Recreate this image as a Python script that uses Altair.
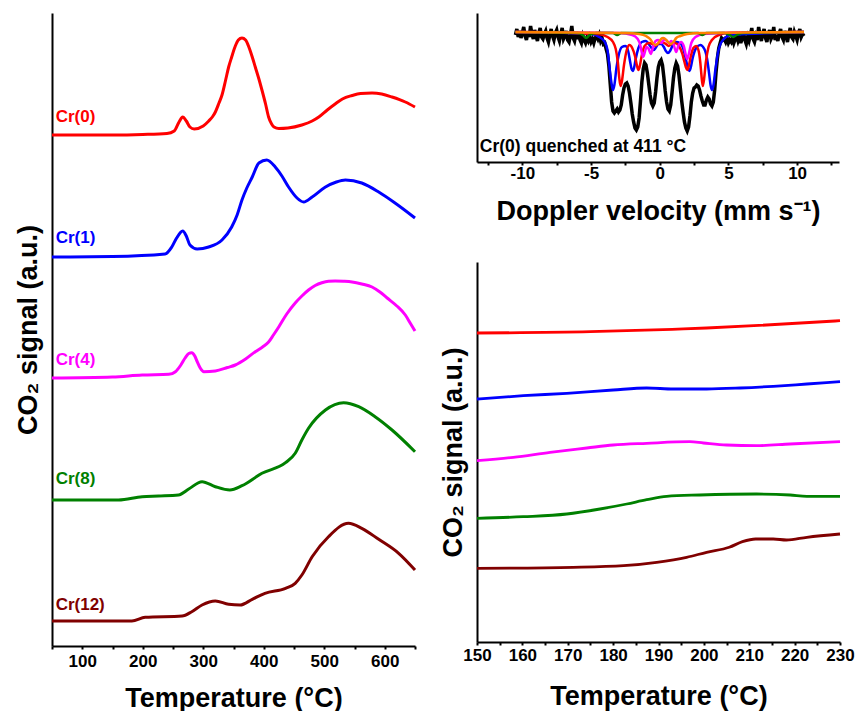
import altair as alt
import numpy as np
import pandas as pd

FONT = "Liberation Sans"

# ---------------- TPD profiles, 50-650 °C (signal in a.u., offset stacked) ----------------
samples = ["Cr(0)", "Cr(1)", "Cr(4)", "Cr(8)", "Cr(12)"]
sample_colors = ["#FF0000", "#0000FF", "#FF00FF", "#008000", "#800000"]

cr0_T = [50, 150, 200, 240, 252, 260, 266, 272, 278, 285, 300, 309, 315, 320, 326, 331, 337, 342, 347, 353,
         358, 364, 370, 376, 381, 386, 392, 397, 403, 408, 413, 417, 425, 440, 463, 480, 491, 505, 518, 530,
         546, 560, 579, 595, 612, 634, 650]
cr0_s = [511, 511, 511.5, 512.5, 515, 524, 529, 525, 519, 517, 520, 525, 529, 534, 543, 551, 566, 579, 589, 600,
         606, 608, 606, 598, 589, 579, 567, 556, 542, 529, 522, 519, 517.5, 518, 521, 525, 529, 536, 542, 547,
         550.5, 552.5, 553, 552, 549, 544, 539]

cr1_T = [50, 150, 237, 248, 256, 266, 272, 278, 290, 309, 331, 347, 356, 364, 372, 381, 392, 405, 419, 430,
         441, 455, 466, 480, 502, 520, 535, 562, 590, 617, 650]
cr1_s = [389, 389.5, 392, 399, 408, 415, 410, 401, 397, 399, 406, 419, 431, 446, 458, 469, 483, 486, 479, 470,
         459, 448, 444, 449, 459, 464, 466, 463, 454, 443, 428]

cr4_T = [50, 150, 199, 243, 254, 263, 270, 276, 281, 286, 290, 295, 301, 320, 340, 353, 370, 386, 398, 408,
         416, 425, 438, 452, 463, 474, 485, 496, 507, 518, 532, 546, 562, 579, 592, 604, 620, 634, 643, 650]
cr4_s = [268, 269, 271, 271.7, 274.3, 281, 288, 292.5, 293.3, 290, 284.3, 278, 274.3, 275, 278.5, 281, 287,
         294.3, 299, 304, 311, 319.3, 332, 343, 350, 356, 360.5, 363.3, 364.8, 365, 364.7, 364, 362, 359, 354,
         348, 340, 331, 322, 315]

cr8_T = [50, 160, 199, 226, 259, 276, 298, 320, 344, 364, 397, 436, 452, 463, 474, 502, 532, 557, 584, 612, 650]
cr8_s = [146, 146, 149.3, 150, 151, 157, 164.3, 159.3, 156, 160.3, 172.7, 183.3, 192.7, 206, 217.7, 236, 243.3,
         239.3, 229.3, 216, 194.3]

cr12_T = [50, 182, 204, 265, 281, 298, 320, 342, 361, 381, 402, 436, 452, 463, 480, 507, 540, 562, 590, 623, 650]
cr12_s = [25, 25, 28.7, 30, 34.3, 41, 45, 41.7, 41, 46.7, 52.7, 57.7, 62.7, 71, 89.3, 109.3, 122.7, 117.7,
          106.7, 92.7, 76]

label_T = [56, 56, 56, 56, 56]
label_s = [529, 408, 286, 167, 41]

# ---------------- low-temperature window, 150-230 °C ----------------
low_T = {
    "Cr(0)": [150, 175, 193, 200.6, 211, 230],
    "Cr(1)": [150, 160.2, 169.8, 180, 187.4, 193.3, 200.6, 208, 215.3, 222.7, 230],
    "Cr(4)": [150, 158, 166.1, 174.2, 180, 187.4, 196.9, 199.9, 205, 211.6, 219, 230],
    "Cr(8)": [150, 160.2, 169.8, 177.1, 183, 187.4, 191.8, 199.1, 211.6, 219, 222.7, 230],
    "Cr(12)": [150, 171.2, 182.3, 189.6, 196.2, 200.6, 205.6, 208.5, 211.4, 215.3, 218.2, 222.7, 230],
}
low_s = {
    "Cr(0)": [309, 310.3, 312.7, 314, 316.3, 321.3],
    "Cr(1)": [243, 246.3, 248.7, 252, 254, 253, 253, 254, 255.7, 258, 260.3],
    "Cr(4)": [181.3, 184.7, 189.7, 194, 197, 198.7, 200.3, 199, 197, 196.3, 198, 200.3],
    "Cr(8)": [123.7, 125.3, 128, 133, 138, 142.3, 145.7, 147, 148, 147, 145.7, 145.7],
    "Cr(12)": [73.7, 74.7, 76.3, 79.7, 84.7, 89.7, 94.7, 100.3, 103, 103, 102, 104.7, 108],
}

# ---------------- Mössbauer spectrum, relative transmission (%) ----------------
wing_left_v = np.round(np.arange(-105, -46) / 10, 1)
wing_left_t = [99.7, 100.3, 99.5, 100.1, 99.4, 99.9, 100.5, 99.6, 99.2, 100.0,
               99.5, 100.6, 99.8, 99.3, 100.2, 99.6, 99.1, 99.9, 100.4, 99.5,
               99.3, 99.8, 100.1, 99.4, 99.0, 99.7, 100.3, 99.6, 99.2, 99.9,
               100.2, 99.5, 99.1, 99.8, 100.4, 99.3, 99.6, 100.1, 99.2, 99.0,
               99.7, 100.6, 99.4, 99.1, 99.8, 99.3, 100.0, 99.2, 98.9, 99.6,
               99.2, 98.9, 99.4, 99.1, 99.5, 99.0, 99.3, 98.9, 99.4]
center_v = np.round(np.arange(-46, 47) / 10, 1)
center_t = [99.6, 99.3, 99.7, 99.1, 99.4, 98.8, 98.9,
            98.3, 97.8, 96.6, 94.8, 93.0, 92.1, 91.9, 92.1, 92.3, 92.0,
            92.2, 92.7, 93.7, 94.4, 94.8, 94.9, 94.6, 93.9, 92.9, 91.8,
            91.0, 90.4, 90.2, 90.5, 91.4, 93.1, 95.0, 96.3, 96.9, 96.7,
            95.9, 94.8, 93.7, 92.9, 92.6, 92.9, 94.0, 95.4, 96.5, 97.0,
            97.2, 96.7, 95.5, 94.1, 93.0, 92.3, 92.1, 92.7, 94.0, 95.4,
            96.4, 96.9, 96.6, 95.7, 94.4, 93.1, 92.0, 91.0, 90.4, 90.1,
            90.5, 91.6, 93.0, 93.9, 94.4, 94.5, 94.7, 94.6, 94.2, 93.6,
            93.1, 92.7, 92.7, 93.2, 93.5, 93.3, 92.8, 92.6, 93.0, 94.2,
            96.0, 97.4, 98.4, 98.9, 99.4, 99.2]
wing_right_v = np.round(np.arange(47, 106) / 10, 1)
wing_right_t = [99.3, 99.0, 99.4, 98.9, 99.2, 99.0, 99.5, 98.9, 99.3, 99.6,
                99.1, 99.5, 98.9, 99.4, 100.0, 99.2, 98.8, 99.5, 99.1, 99.7,
                100.4, 99.3, 99.0, 99.6, 99.2, 100.5, 99.7, 99.1, 99.9, 100.3,
                99.4, 99.0, 99.8, 100.2, 99.3, 99.6, 100.5, 99.2, 99.7, 99.1,
                99.9, 100.3, 99.5, 99.2, 100.1, 99.6, 99.0, 99.8, 100.4, 99.5,
                99.3, 100.0, 99.6, 99.2, 99.9, 100.3, 99.5, 99.8, 99.6]

# fitted sub-spectra: (velocity mm/s, transmission %)
fit_blue = [(-10.5, 100.0), (-5.0, 99.8), (-4.4, 99.5), (-4.0, 99.0), (-3.8, 98.2), (-3.65, 96.4), (-3.5, 94.8),
            (-3.4, 94.2), (-3.3, 94.7), (-3.15, 96.4), (-3.0, 97.6), (-2.75, 98.5), (-2.5, 98.6), (-2.3, 98.1),
            (-2.15, 97.0), (-2.05, 96.3), (-1.96, 96.1), (-1.87, 96.4), (-1.75, 97.3), (-1.55, 98.4),
            (-1.3, 99.0), (-1.0, 99.1), (-0.8, 98.8), (-0.6, 98.4), (-0.45, 98.2), (-0.3, 98.4), (-0.1, 98.8),
            (0.1, 98.8), (0.3, 98.5), (0.45, 98.1), (0.6, 97.9), (0.75, 98.1), (0.95, 98.7), (1.2, 99.0),
            (1.45, 98.9), (1.7, 98.4), (1.9, 97.3), (2.05, 96.4), (2.15, 96.1), (2.25, 96.4), (2.4, 97.4),
            (2.65, 98.4), (2.95, 98.7), (3.25, 98.3), (3.45, 97.3), (3.6, 95.8), (3.7, 94.7), (3.8, 94.2),
            (3.9, 94.6), (4.05, 96.2), (4.25, 98.0), (4.6, 99.2), (5.2, 99.7), (10.5, 100.0)]
fit_red = [(-10.5, 100.0), (-4.5, 99.8), (-3.8, 99.5), (-3.4, 99.0), (-3.2, 98.3), (-3.05, 97.0), (-2.95, 95.5),
           (-2.85, 94.6), (-2.75, 95.1), (-2.6, 96.7), (-2.4, 98.2), (-2.2, 98.7), (-2.0, 98.4), (-1.8, 97.6),
           (-1.65, 96.6), (-1.55, 96.2), (-1.45, 96.6), (-1.3, 97.7), (-1.1, 98.6), (-0.8, 98.9),
           (-0.55, 98.8), (-0.35, 98.6), (-0.15, 98.8), (0.15, 99.0), (0.45, 98.8), (0.65, 98.6), (0.85, 98.8),
           (1.1, 98.9), (1.4, 98.6), (1.65, 97.8), (1.8, 97.0), (1.9, 96.5), (2.0, 96.2), (2.1, 96.5),
           (2.25, 97.5), (2.45, 98.4), (2.65, 98.6), (2.85, 98.0), (2.95, 97.0), (3.03, 95.8), (3.13, 94.6),
           (3.23, 95.3), (3.35, 96.9), (3.55, 98.5), (3.8, 99.2), (4.3, 99.7), (5.0, 99.9), (10.5, 100.0)]
fit_magenta = [(-10.5, 100.0), (-3.0, 99.9), (-2.0, 99.7), (-1.6, 99.3), (-1.4, 98.6), (-1.3, 97.9), (-1.2, 97.5),
               (-1.1, 97.9), (-0.95, 98.5), (-0.8, 98.3), (-0.65, 97.8), (-0.5, 98.4), (-0.3, 99.1), (-0.1, 99.2),
               (0.1, 98.9), (0.3, 99.2), (0.45, 99.2), (0.65, 98.9), (0.85, 99.1), (1.0, 98.8), (1.2, 98.0),
               (1.35, 98.6), (1.55, 99.0), (1.75, 98.6), (1.9, 97.7), (2.0, 97.3), (2.1, 97.7), (2.3, 98.9),
               (2.6, 99.5), (3.2, 99.8), (4.5, 99.9), (10.5, 100.0)]
fit_green = [(-10.5, 100.0), (-6.0, 99.9), (-5.6, 99.7), (-5.35, 99.4), (-5.1, 99.7), (-4.6, 99.9), (-3.4, 99.9),
             (-3.1, 99.7), (-2.8, 99.9), (-0.85, 99.9), (0.85, 99.9), (2.8, 99.9), (3.1, 99.7), (3.4, 99.9),
             (4.7, 99.9), (5.1, 99.7), (5.35, 99.5), (5.6, 99.7), (6.0, 99.9), (10.5, 100.0)]
fit_orange = [(-10.5, 100.0), (-2.5, 99.9), (-1.5, 99.8), (-1.0, 99.6), (-0.7, 99.3), (-0.5, 98.9), (-0.3, 98.7),
              (-0.1, 98.9), (0.1, 99.3), (0.25, 99.4), (0.4, 99.3), (0.6, 99.0), (0.8, 98.8), (1.0, 99.0),
              (1.2, 99.4), (1.5, 99.6), (2.0, 99.8), (3.0, 99.9), (10.5, 100.0)]

# ---------------- tables ----------------
tpd = pd.concat([
    pd.DataFrame({"T": t, "signal": s, "sample": name, "k": i})
    for i, (name, t, s) in enumerate(zip(samples, [cr0_T, cr1_T, cr4_T, cr8_T, cr12_T],
                                         [cr0_s, cr1_s, cr4_s, cr8_s, cr12_s]))
])
labels = pd.DataFrame({"T": label_T, "signal": label_s, "sample": samples})
low = pd.concat([
    pd.DataFrame({"T": low_T[n], "signal": low_s[n], "sample": n, "k": i}) for i, n in enumerate(samples)
])
assert len(wing_left_v) == len(wing_left_t)
assert len(center_v) == len(center_t)
assert len(wing_right_v) == len(wing_right_t)
spectrum = pd.DataFrame({
    "v": np.concatenate([wing_left_v, center_v, wing_right_v]),
    "t": list(wing_left_t) + list(center_t) + list(wing_right_t),
})

color_scale = alt.Scale(domain=samples, range=sample_colors)

# ---------------- left panel ----------------
x_left = alt.X("T:Q", scale=alt.Scale(domain=[50, 650], nice=False, zero=False),
               axis=alt.Axis(values=list(range(50, 651, 50)), title="Temperature (°C)",
                             labelExpr="datum.value % 100 === 0 ? datum.label : ''",
                             labelFlush=False, labelOverlap=False, labelPadding=4, titlePadding=16))
y_left = alt.Y("signal:Q", scale=alt.Scale(domain=[0, 633], nice=False, zero=False),
               axis=alt.Axis(labels=False, ticks=False, title="CO₂ signal (a.u.)", titlePadding=10))

left_lines = alt.Chart(tpd).mark_line(strokeWidth=3, interpolate="monotone").encode(
    x=x_left, y=y_left,
    color=alt.Color("sample:N", scale=color_scale, legend=None),
    detail="k:O",
)
left_text = alt.Chart(labels).mark_text(align="left", baseline="middle", font=FONT, fontSize=17,
                                        fontWeight="bold").encode(
    x=x_left, y=y_left, text="sample:N",
    color=alt.Color("sample:N", scale=color_scale, legend=None),
)
left = alt.layer(left_lines, left_text).properties(width=363, height=633)

# ---------------- inset: Mössbauer spectrum ----------------
x_ms = alt.X("v:Q", scale=alt.Scale(domain=[-13.3, 13.05], nice=False, zero=False),
             axis=alt.Axis(values=[-12.5, -10, -7.5, -5, -2.5, 0, 2.5, 5, 7.5, 10, 12.5],
                           title="Doppler velocity (mm s⁻¹)",
                           labelExpr="datum.value % 5 === 0 ? toString(datum.value) : ''",
                           labelFlush=False, labelOverlap=False, labelPadding=0, titlePadding=17))
y_ms = alt.Y("t:Q", scale=alt.Scale(domain=[87.0, 101.9], nice=False, zero=False),
             axis=alt.Axis(labels=False, ticks=False, title=None))

ms_layers = [alt.Chart(spectrum).mark_line(color="black", strokeWidth=3.5).encode(x=x_ms, y=y_ms)]
for fit, col in [(fit_blue, "#0000FF"), (fit_red, "#FF0000"), (fit_magenta, "#FF00FF"),
                 (fit_green, "#008000"), (fit_orange, "#FF8000")]:
    df = pd.DataFrame(fit, columns=["v", "t"])
    ms_layers.append(alt.Chart(df).mark_line(color=col, strokeWidth=2.5, interpolate="monotone").encode(
        x=x_ms, y=y_ms))
note = pd.DataFrame({"v": [-13.1], "t": [88.0], "txt": ["Cr(0) quenched at 411 °C"]})
ms_layers.append(alt.Chart(note).mark_text(align="left", baseline="alphabetic", font=FONT, fontSize=17.5,
                                            fontWeight="bold", color="black").encode(
    x=x_ms, y=y_ms, text="txt:N"))
inset = alt.layer(*ms_layers).properties(width=362, height=149)

# ---------------- right panel ----------------
x_right = alt.X("T:Q", scale=alt.Scale(domain=[150, 230], nice=False, zero=False),
                axis=alt.Axis(values=list(range(150, 231, 5)), title="Temperature (°C)",
                              labelExpr="datum.value % 10 === 0 ? datum.label : ''",
                              labelFlush=False, labelOverlap=False, labelPadding=2, titlePadding=20))
y_right = alt.Y("signal:Q", scale=alt.Scale(domain=[0, 380], nice=False, zero=False),
                axis=alt.Axis(labels=False, ticks=False, title="CO₂ signal (a.u.)", titlePadding=10))
right = alt.Chart(low).mark_line(strokeWidth=2.8, interpolate="monotone").encode(
    x=x_right, y=y_right,
    color=alt.Color("sample:N", scale=color_scale, legend=None),
    detail="k:O",
).properties(width=363, height=380)

chart = alt.hconcat(
    left,
    alt.vconcat(inset, right, spacing=38),
    spacing=18,
).properties(
    padding={"left": 14, "top": 13, "right": 0, "bottom": 0},
).configure_view(stroke=None).configure_axis(
    grid=False,
    domainColor="black", domainWidth=2,
    tickColor="black", tickWidth=2, tickSize=3,
    labelFont=FONT, labelFontSize=17, labelFontWeight="bold", labelColor="black",
    titleFont=FONT, titleFontSize=27, titleFontWeight="bold", titleColor="black",
)

chart.save("out.html", embed_options={"renderer": "svg", "actions": False})
